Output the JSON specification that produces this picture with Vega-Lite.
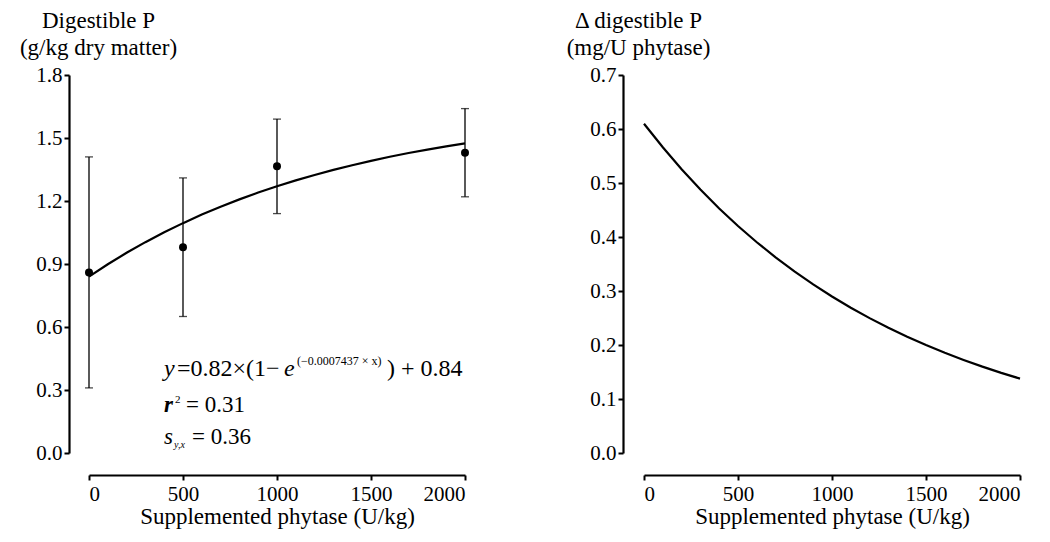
{
  "$schema": "https://vega.github.io/schema/vega-lite/v6.json",
  "background": "white",
  "padding": {"left": 19, "top": 9, "right": 5, "bottom": 5},
  "bounds": "flush",
  "spacing": 179,
  "config": {
    "font": "Liberation Serif",
    "view": {"stroke": null},
    "axis": {
      "domainColor": "black", "domainWidth": 2.2, "tickColor": "black", "tickWidth": 2, "tickSize": 5,
      "labelFont": "Liberation Serif", "labelFontSize": 21, "labelColor": "black", "labelPadding": 2,
      "titleFont": "Liberation Serif", "titleFontSize": 23, "titleFontWeight": "normal", "titleColor": "black",
      "grid": false
    },
    "text": {"font": "Liberation Serif", "color": "black", "fill": "black"}
  },
  "datasets": {
    "curve": [
      {"x": 0, "y": 0.84}, {"x": 100, "y": 0.8988}, {"x": 200, "y": 0.9533}, {"x": 300, "y": 1.0040},
      {"x": 400, "y": 1.0510}, {"x": 500, "y": 1.0946}, {"x": 600, "y": 1.1352}, {"x": 700, "y": 1.1728},
      {"x": 800, "y": 1.2077}, {"x": 900, "y": 1.2401}, {"x": 1000, "y": 1.2702}, {"x": 1100, "y": 1.2981},
      {"x": 1200, "y": 1.3241}, {"x": 1300, "y": 1.3481}, {"x": 1400, "y": 1.3705}, {"x": 1500, "y": 1.3912},
      {"x": 1600, "y": 1.4105}, {"x": 1700, "y": 1.4284}, {"x": 1800, "y": 1.4450}, {"x": 1900, "y": 1.4604},
      {"x": 2000, "y": 1.4747}
    ],
    "means": [
      {"x": 0, "y": 0.86, "lo": 0.31, "hi": 1.41},
      {"x": 500, "y": 0.98, "lo": 0.65, "hi": 1.31},
      {"x": 1000, "y": 1.365, "lo": 1.14, "hi": 1.59},
      {"x": 2000, "y": 1.43, "lo": 1.22, "hi": 1.64}
    ],
    "delta": [
      {"x": 0, "y": 0.6098}, {"x": 100, "y": 0.5661}, {"x": 200, "y": 0.5255}, {"x": 300, "y": 0.4879},
      {"x": 400, "y": 0.4529}, {"x": 500, "y": 0.4204}, {"x": 600, "y": 0.3903}, {"x": 700, "y": 0.3623},
      {"x": 800, "y": 0.3364}, {"x": 900, "y": 0.3123}, {"x": 1000, "y": 0.2899}, {"x": 1100, "y": 0.2691},
      {"x": 1200, "y": 0.2498}, {"x": 1300, "y": 0.2319}, {"x": 1400, "y": 0.2153}, {"x": 1500, "y": 0.1999},
      {"x": 1600, "y": 0.1855}, {"x": 1700, "y": 0.1723}, {"x": 1800, "y": 0.1599}, {"x": 1900, "y": 0.1484},
      {"x": 2000, "y": 0.1378}
    ],
    "ann": [
      {"line": "eq", "x": 399, "y": 0.366},
      {"line": "r2", "x": 399, "y": 0.195},
      {"line": "s", "x": 399, "y": 0.043}
    ]
  },
  "hconcat": [
    {
      "width": 376,
      "height": 378,
      "encoding": {
        "x": {"field": "x", "type": "quantitative", "scale": {"domain": [0, 2000]},
          "axis": {"values": [0, 500, 1000, 1500, 2000], "format": "d", "offset": 22, "title": "Supplemented phytase (U/kg)", "titlePadding": 1, "labelPadding": 3}},
        "y": {"field": "y", "type": "quantitative", "scale": {"domain": [0, 1.8]},
          "axis": {"values": [0, 0.3, 0.6, 0.9, 1.2, 1.5, 1.8], "format": ".1f", "offset": 20,
            "title": ["Digestible P", "(g/kg dry matter)"], "titleAngle": 0, "titleAlign": "center",
            "titleBaseline": "alphabetic", "titleX": 29, "titleY": -48, "titleLineHeight": 27}}
      },
      "layer": [
        {"data": {"name": "curve"}, "mark": {"type": "line", "color": "black", "strokeWidth": 2.2}},
        {"data": {"name": "means"}, "mark": {"type": "rule", "color": "black", "strokeWidth": 1.3},
          "encoding": {"y": {"field": "lo", "type": "quantitative"}, "y2": {"field": "hi"}}},
        {"data": {"name": "means"}, "mark": {"type": "tick", "orient": "horizontal", "color": "black", "size": 8, "thickness": 1.3},
          "encoding": {"y": {"field": "lo", "type": "quantitative"}}},
        {"data": {"name": "means"}, "mark": {"type": "tick", "orient": "horizontal", "color": "black", "size": 8, "thickness": 1.3},
          "encoding": {"y": {"field": "hi", "type": "quantitative"}}},
        {"data": {"name": "means"}, "mark": {"type": "circle", "color": "black", "size": 64, "opacity": 1}},
        {"data": {"name": "ann"}, "transform": [{"filter": "datum.line == 'eq'"}],
          "layer": [
            {"mark": {"type": "text", "text": "y", "fontStyle": "italic", "fontSize": 24, "align": "left", "baseline": "alphabetic", "fill": "black"}},
            {"mark": {"type": "text", "text": "=0.82×(1−", "fontSize": 24, "align": "left", "baseline": "alphabetic", "dx": 13, "fill": "black"}},
            {"mark": {"type": "text", "text": "e", "fontStyle": "italic", "fontSize": 24, "align": "left", "baseline": "alphabetic", "dx": 120, "fill": "black"}},
            {"mark": {"type": "text", "text": "(−0.0007437 × x)", "fontSize": 12, "align": "left", "baseline": "alphabetic", "dx": 133, "dy": -11, "fill": "black"}},
            {"mark": {"type": "text", "text": ") + 0.84", "fontSize": 24, "align": "left", "baseline": "alphabetic", "dx": 223, "fill": "black"}}
          ]},
        {"data": {"name": "ann"}, "transform": [{"filter": "datum.line == 'r2'"}],
          "layer": [
            {"mark": {"type": "text", "text": "r", "fontStyle": "italic", "fontWeight": "bold", "fontSize": 23, "align": "left", "baseline": "alphabetic", "fill": "black"}},
            {"mark": {"type": "text", "text": "2", "fontSize": 11, "align": "left", "baseline": "alphabetic", "dx": 11, "dy": -9, "fill": "black"}},
            {"mark": {"type": "text", "text": "= 0.31", "fontSize": 23, "align": "left", "baseline": "alphabetic", "dx": 22, "fill": "black"}}
          ]},
        {"data": {"name": "ann"}, "transform": [{"filter": "datum.line == 's'"}],
          "layer": [
            {"mark": {"type": "text", "text": "s", "fontStyle": "italic", "fontSize": 23, "align": "left", "baseline": "alphabetic", "fill": "black"}},
            {"mark": {"type": "text", "text": "y,x", "fontStyle": "italic", "fontSize": 10, "align": "left", "baseline": "alphabetic", "dx": 10, "dy": 4, "fill": "black"}},
            {"mark": {"type": "text", "text": "= 0.36", "fontSize": 23, "align": "left", "baseline": "alphabetic", "dx": 28, "fill": "black"}}
          ]}
      ]
    },
    {
      "width": 376,
      "height": 378,
      "data": {"name": "delta"},
      "mark": {"type": "line", "color": "black", "strokeWidth": 2.2},
      "encoding": {
        "x": {"field": "x", "type": "quantitative", "scale": {"domain": [0, 2000]},
          "axis": {"values": [0, 500, 1000, 1500, 2000], "format": "d", "offset": 22, "title": "Supplemented phytase (U/kg)", "titlePadding": 1, "labelPadding": 3}},
        "y": {"field": "y", "type": "quantitative", "scale": {"domain": [0, 0.7]},
          "axis": {"values": [0, 0.1, 0.2, 0.3, 0.4, 0.5, 0.6, 0.7], "format": ".1f", "offset": 21,
            "title": ["Δ digestible P", "(mg/U phytase)"], "titleAngle": 0, "titleAlign": "center",
            "titleBaseline": "alphabetic", "titleX": 15, "titleY": -48, "titleLineHeight": 27}}
      }
    }
  ]
}
